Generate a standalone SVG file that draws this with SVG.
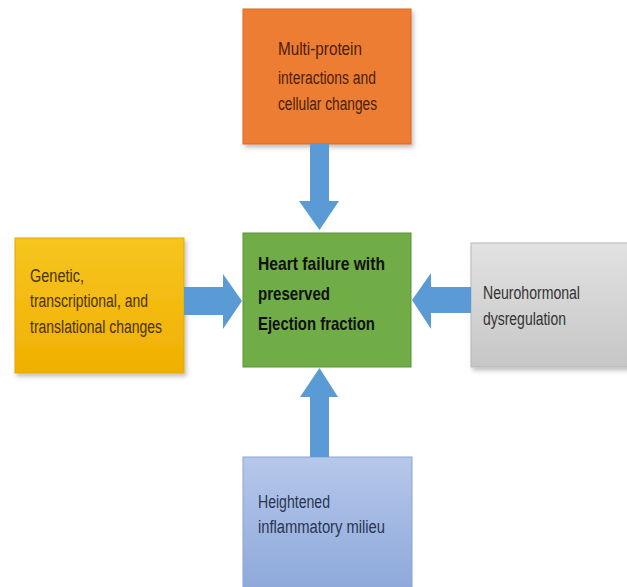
<svg xmlns="http://www.w3.org/2000/svg" width="627" height="587" viewBox="0 0 627 587">
<defs>
<linearGradient id="gy" x1="0" y1="0" x2="0" y2="1"><stop offset="0" stop-color="#F7C520"/><stop offset="1" stop-color="#F0B000"/></linearGradient>
<linearGradient id="gg" x1="0" y1="0" x2="0" y2="1"><stop offset="0" stop-color="#E2E2E2"/><stop offset="1" stop-color="#C6C6C6"/></linearGradient>
<linearGradient id="gb" x1="0" y1="0" x2="0" y2="1"><stop offset="0" stop-color="#B6C8EA"/><stop offset="1" stop-color="#8DA8DA"/></linearGradient>
<filter id="sh" x="-10%" y="-10%" width="130%" height="130%"><feDropShadow dx="2" dy="3" stdDeviation="2" flood-color="#000" flood-opacity="0.25"/></filter>
</defs>
<style>
.t{font-family:"Liberation Sans",Arial,sans-serif;font-size:18px}
.b{font-family:"Liberation Sans",Arial,sans-serif;font-size:19px;font-weight:bold;fill:#111}
.arrow{fill:#5B9BD5}
</style>
<rect width="627" height="587" fill="#fff"/>
<g id="top">
<rect x="243" y="9" width="168" height="135" fill="#ED7D31" stroke="#D56B22" stroke-width="1" filter="url(#sh)"/>
<text class="t" fill="#4A1E0A"><tspan x="278" y="55" textLength="84" lengthAdjust="spacingAndGlyphs">Multi-protein</tspan><tspan x="278" y="84" textLength="98" lengthAdjust="spacingAndGlyphs">interactions and</tspan><tspan x="278" y="110" textLength="99" lengthAdjust="spacingAndGlyphs">cellular changes</tspan></text>
</g>
<g id="left">
<rect x="15" y="238" width="169" height="135" fill="url(#gy)" stroke="#E0A800" stroke-width="1" filter="url(#sh)"/>
<text class="t" fill="#4A3200"><tspan x="30" y="282" textLength="54" lengthAdjust="spacingAndGlyphs">Genetic,</tspan><tspan x="30" y="307" textLength="118" lengthAdjust="spacingAndGlyphs">transcriptional, and</tspan><tspan x="30" y="333" textLength="132" lengthAdjust="spacingAndGlyphs">translational changes</tspan></text>
</g>
<g id="center">
<rect x="243" y="233" width="168" height="134" fill="#70AD47" stroke="#5A9236" stroke-width="1"/>
<text class="b"><tspan x="258" y="270" textLength="127" lengthAdjust="spacingAndGlyphs">Heart failure with</tspan><tspan x="258" y="300" textLength="72" lengthAdjust="spacingAndGlyphs">preserved</tspan><tspan x="258" y="330" textLength="117" lengthAdjust="spacingAndGlyphs">Ejection fraction</tspan></text>
</g>
<g id="right">
<rect x="471" y="243" width="160" height="124" fill="url(#gg)" stroke="#B8B8B8" stroke-width="1" filter="url(#sh)"/>
<text class="t" fill="#333"><tspan x="483" y="299" textLength="97" lengthAdjust="spacingAndGlyphs">Neurohormonal</tspan><tspan x="483" y="325" textLength="83" lengthAdjust="spacingAndGlyphs">dysregulation</tspan></text>
</g>
<g id="bottom">
<rect x="243" y="457" width="169" height="134" fill="url(#gb)" stroke="#8AA3D0" stroke-width="1"/>
<text class="t" fill="#2A3552"><tspan x="258" y="508" textLength="72" lengthAdjust="spacingAndGlyphs">Heightened</tspan><tspan x="258" y="533" textLength="127" lengthAdjust="spacingAndGlyphs">inflammatory milieu</tspan></text>
</g>
<g id="connectors">
<polygon class="arrow" points="310,144 329,144 329,201 339,201 319.5,230 299,201 310,201"/>
<polygon class="arrow" points="184,287 223,287 223,274 242,301 223,329 223,315 184,315"/>
<polygon class="arrow" points="471,287 431,287 431,273 412,300 431,329 431,313 471,313"/>
<polygon class="arrow" points="310,457 329,457 329,397 338,397 319.5,368 300,397 310,397"/>
</g>
</svg>
